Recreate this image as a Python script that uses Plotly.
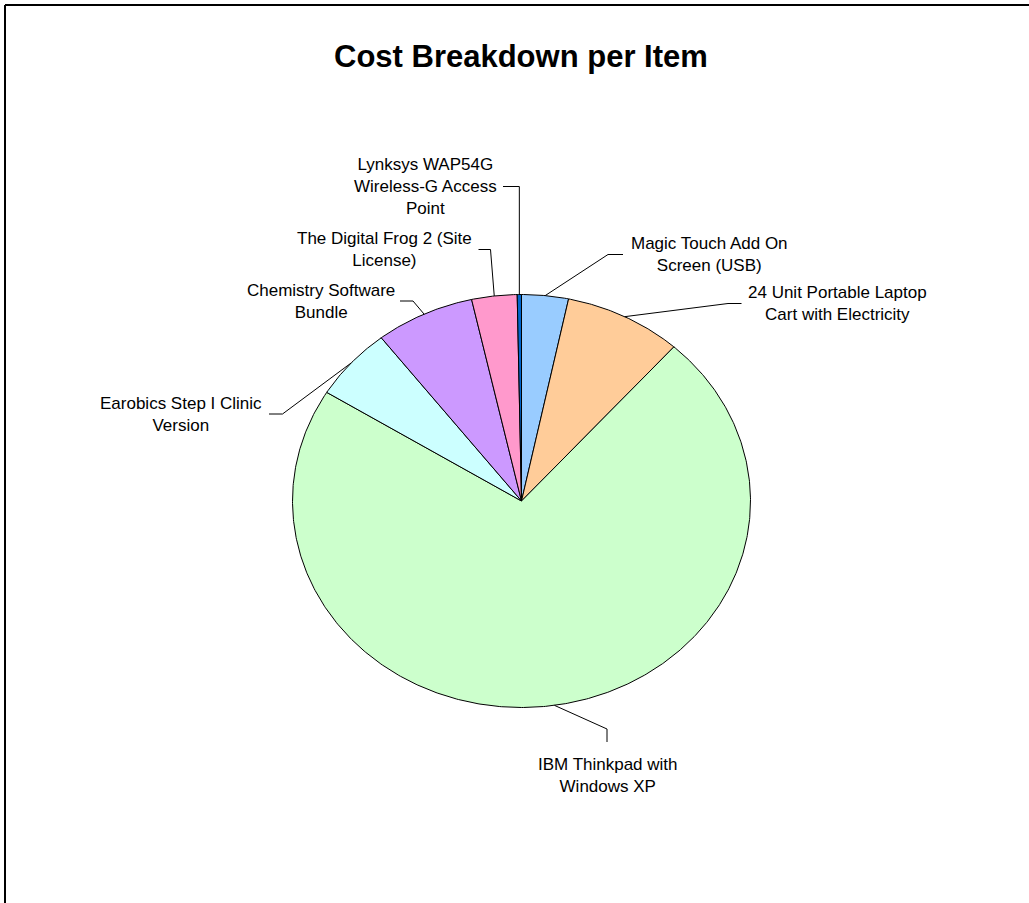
import numpy as np
import plotly.graph_objects as go

# ---------------- data ----------------
items = [
    "Magic Touch Add On Screen (USB)",
    "24 Unit Portable Laptop Cart with Electricity",
    "IBM Thinkpad with Windows XP",
    "Earobics Step I Clinic Version",
    "Chemistry Software Bundle",
    "The Digital Frog 2 (Site License)",
    "Lynksys WAP54G Wireless-G Access Point",
]
label_text = [
    "Magic Touch Add On<br>Screen (USB)",
    "24 Unit Portable Laptop<br>Cart with Electricity",
    "IBM Thinkpad with<br>Windows XP",
    "Earobics Step I Clinic<br>Version",
    "Chemistry Software<br>Bundle",
    "The Digital Frog 2 (Site<br>License)",
    "Lynksys WAP54G<br>Wireless-G Access<br>Point",
]
costs = [1650, 4150, 36150, 2850, 3500, 1600, 150]
colors = ["#99CCFF", "#FFCC99", "#CCFFCC", "#CCFFFF", "#CC99FF", "#FF99CC", "#0066CC"]

# ---------------- layout geometry (pixels) ----------------
W, H = 1029, 903
CX, CY = 521.5, 501.0      # pie centre
RX, RY = 229.0, 206.5      # pie radii (elliptical, as in the reference)

# label centres and leader-line attach / elbow points (pixels)
label_pos = [(709, 254.5), (837, 303.5), (608, 775), (181, 414),
             (321, 301), (384.5, 249.5), (425, 186.5)]
attach_pos = [(623, 254.5), (741.5, 303.5), (607, 742), (269, 414),
              (400, 301), (478.5, 249.5), (503, 186.5)]
elbow_pos = [(608, 254.5), (728, 303.5), (607, 729), (282.5, 414),
             (413, 301), (490.5, 249.5), (None, 186.5)]

FONT = "Liberation Sans, Arial, sans-serif"


def px_to_data(px, py):
    return (px - CX) / RX, (CY - py) / RY


fig = go.Figure()

total = float(sum(costs))
start = 0.0
mids = []
for name, val, col in zip(items, costs, colors):
    span = 360.0 * val / total
    end = start + span
    n = max(3, int(span * 2) + 2)
    ang = np.radians(np.linspace(start, end, n))
    xs = np.concatenate([[0.0], np.sin(ang), [0.0]])
    ys = np.concatenate([[0.0], np.cos(ang), [0.0]])
    fig.add_trace(go.Scatter(
        x=xs, y=ys, mode="lines", fill="toself", fillcolor=col,
        line=dict(color="black", width=1), name=name,
        hoveron="fills", text=f"{name}: ${val:,} ({100*val/total:.1f}%)",
        hoverinfo="text", showlegend=False,
    ))
    mids.append(np.radians((start + end) / 2))
    start = end

# leader lines
for i, m in enumerate(mids):
    ax, ay = np.sin(m), np.cos(m)
    atx, aty = px_to_data(*attach_pos[i])
    ex_px, ey_px = elbow_pos[i]
    if ex_px is None:
        ex = ax
        ey = px_to_data(0, ey_px)[1]
    else:
        ex, ey = px_to_data(ex_px, ey_px)
    fig.add_trace(go.Scatter(
        x=[atx, ex, ax], y=[aty, ey, ay], mode="lines",
        line=dict(color="black", width=1), hoverinfo="skip", showlegend=False,
    ))

annotations = []
for i, t in enumerate(label_text):
    lx, ly = px_to_data(*label_pos[i])
    annotations.append(dict(
        x=lx, y=ly, xref="x", yref="y", text=t, showarrow=False,
        xanchor="center", yanchor="middle", align="center",
        font=dict(family=FONT, size=17, color="black"),
    ))

annotations.append(dict(
    x=521 / W, y=1 - 57 / H, xref="paper", yref="paper",
    text="Cost Breakdown per Item", showarrow=False,
    xanchor="center", yanchor="middle",
    font=dict(family=FONT, size=31, color="black", weight="bold"),
))

shapes = [
    dict(type="line", xref="paper", yref="paper", x0=5 / W, y0=1 - 5 / H,
         x1=1, y1=1 - 5 / H, line=dict(color="black", width=2)),
    dict(type="line", xref="paper", yref="paper", x0=5 / W, y0=1 - 5 / H,
         x1=5 / W, y1=0, line=dict(color="black", width=2)),
]

fig.update_layout(
    width=W, height=H, autosize=False,
    margin=dict(l=0, r=0, t=0, b=0, pad=0),
    paper_bgcolor="white", plot_bgcolor="white",
    xaxis=dict(range=[(0 - CX) / RX, (W - CX) / RX], domain=[0, 1],
               showgrid=False, zeroline=False, showticklabels=False,
               showline=False, fixedrange=True),
    yaxis=dict(range=[(CY - H) / RY, CY / RY], domain=[0, 1],
               showgrid=False, zeroline=False, showticklabels=False,
               showline=False, fixedrange=True),
    annotations=annotations, shapes=shapes, showlegend=False,
)

fig.write_html(
    "out.html",
    config={"displayModeBar": False},
    post_script="document.body.style.margin='0';document.body.style.overflow='hidden';",
)
